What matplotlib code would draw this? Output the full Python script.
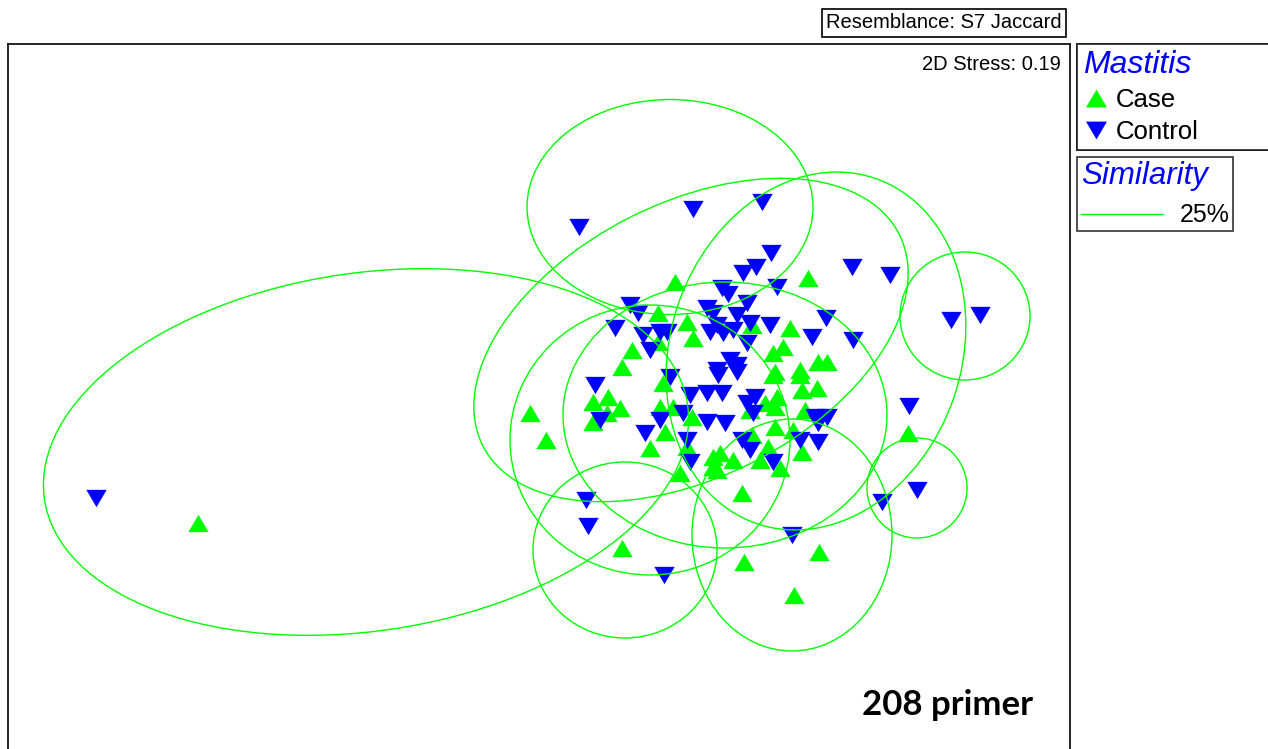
import matplotlib
matplotlib.use("Agg")
import matplotlib.pyplot as plt
from matplotlib.lines import Line2D
from matplotlib.patches import Ellipse

# nMDS ordination (plot units, y grows downward)
case_x = [198, 530, 546, 675, 808, 658, 687, 693, 658, 632, 622,
          790, 783, 773, 775, 800, 818, 827, 752,
          593, 608, 620, 593, 607, 663, 660, 673, 665, 650, 692, 687, 680, 713, 717,
          773, 800, 817, 777, 765, 802, 775, 805, 750, 775, 793, 752, 768, 802,
          720, 733, 760, 713, 780, 742, 622, 744, 819, 794, 908]
case_y = [523, 413, 440, 282, 278, 313, 322, 338, 342, 350, 367,
          328, 347, 353, 372, 370, 362, 362, 325,
          402, 397, 408, 422, 413, 383, 407, 407, 432, 448, 417, 447, 473, 457, 470,
          375, 375, 388, 397, 403, 390, 407, 410, 410, 427, 430, 435, 447, 452,
          453, 460, 460, 467, 468, 493, 548, 562, 552, 595, 433]

control_x = [96, 579, 693, 762, 771, 756, 743, 852, 890, 951, 980, 909, 917, 882,
             586, 588, 664, 792, 826, 853, 777, 722, 728, 747, 707, 737, 713,
             750, 770, 717, 723, 710, 733, 630, 638, 615, 643, 660, 667, 650,
             812, 747, 730, 737, 717, 670, 595, 690, 707, 722, 718, 737,
             755, 747, 753, 600, 660, 683, 645, 687, 690, 707, 725, 742, 750, 773,
             815, 827, 818, 800, 818]
control_y = [498, 227, 209, 202, 253, 267, 273, 267, 275, 320, 315, 406, 490, 502,
             500, 526, 575, 535, 318, 340, 287, 288, 294, 303, 308, 315, 313,
             323, 325, 325, 333, 332, 330, 305, 313, 328, 335, 332, 332, 350,
             337, 343, 360, 365, 370, 377, 385, 395, 393, 393, 375, 372,
             397, 403, 413, 420, 420, 413, 433, 440, 462, 422, 423, 440, 450, 462,
             417, 417, 423, 440, 442]

# 25% similarity contours: centre x, centre y, width, height, angle
cont_cx = [366, 670, 691, 725, 650, 625, 816, 792, 917, 965]
cont_cy = [452, 207, 340, 415, 440, 550, 351, 535, 488, 316]
cont_w = [650, 286, 467, 324, 280, 184, 291, 200, 100, 130]
cont_h = [358, 215, 274, 266, 270, 176, 365, 232, 100, 128]
cont_ang = [-8.4, 0, -27, 0, 0, 0, 19, 0, 0, 0]

GREEN = "#00ff00"
BLUE = "#0000ff"
W, H = 1268, 749

plt.rcParams["font.family"] = ["Liberation Sans", "DejaVu Sans"]

fig = plt.figure(figsize=(W / 100, H / 100), dpi=100)
ax = fig.add_axes([8 / W, 0, 1062 / W, 705 / H])
ax.set_xlim(8, 1070)
ax.set_ylim(749, 44)
ax.set_xticks([])
ax.set_yticks([])
ax.spines["bottom"].set_visible(False)
for s in ["top", "left", "right"]:
    ax.spines[s].set_linewidth(1.2)

for cx, cy, w, h, a in zip(cont_cx, cont_cy, cont_w, cont_h, cont_ang):
    ax.add_patch(Ellipse((cx, cy), w, h, angle=a, fill=False, ec=GREEN, lw=1.0, zorder=3))

# marker shapes live in screen space, so "up" stays up on the inverted axis
up = [(-1, -0.85), (1, -0.85), (0, 0.85)]
down = [(-1, 0.85), (1, 0.85), (0, -0.85)]
ax.scatter(case_x, case_y, marker=up, s=215, c=GREEN, linewidths=0, zorder=2)
ax.scatter(control_x, control_y, marker=down, s=215, c=BLUE, linewidths=0, zorder=2)

ax.text(0.9915, 0.984, "2D Stress: 0.19", transform=ax.transAxes, ha="right", va="top", fontsize=14.5)
ax.text(0.965, 0.04, "208 primer", transform=ax.transAxes, ha="right", va="bottom",
        fontsize=25, fontweight="bold", family=["Lato", "DejaVu Sans"])

fig.text(1062 / W, 1 - 23 / H, "Resemblance: S7 Jaccard", ha="right", va="center", fontsize=14.5,
         bbox=dict(boxstyle="square,pad=0.2", fc="white", ec="black", lw=1.2))

h_case = Line2D([], [], marker=up, ls="none", color=GREEN, ms=15, mew=0)
h_ctrl = Line2D([], [], marker=down, ls="none", color=BLUE, ms=15, mew=0)
leg1 = fig.legend([h_case, h_ctrl], ["Case", "Control"], loc="upper left",
                  bbox_to_anchor=(1077 / W, 1 - 150 / H, 260 / W, 106 / H), mode="expand",
                  title="Mastitis", alignment="left", fontsize=18.5, title_fontsize=23,
                  frameon=True, fancybox=False, edgecolor="black", borderpad=0.22,
                  labelspacing=0.32, handlelength=1.0, handletextpad=0.3, borderaxespad=0)
leg1.get_frame().set_linewidth(1.2)
leg1.get_title().set_color(BLUE)
leg1.get_title().set_fontstyle("italic")

h_sim = Line2D([], [], color=GREEN, lw=1.0)
leg2 = fig.legend([h_sim], ["25%"], loc="upper left",
                  bbox_to_anchor=(1077 / W, 1 - 157 / H), title="Similarity", alignment="left",
                  fontsize=18, title_fontsize=22.5, frameon=True, fancybox=False,
                  edgecolor="black", borderpad=0.15, handlelength=3.3, handletextpad=0.65,
                  borderaxespad=0)
leg2.get_frame().set_linewidth(1.2)
leg2.get_title().set_color(BLUE)
leg2.get_title().set_fontstyle("italic")
fig.add_artist(leg1)

fig.savefig("out.png", dpi=100)
